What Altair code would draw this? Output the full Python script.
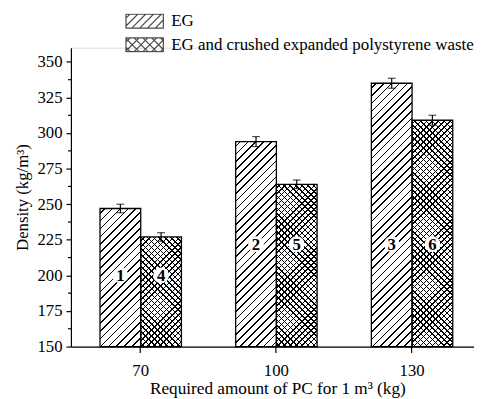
import math
import altair as alt
import pandas as pd

# ---- data ----
pc_levels = ["70", "100", "130"]
groups = ["EG", "EG and crushed expanded polystyrene waste"]
eg_density = [247, 294, 335]
eg_error = [3, 3.5, 3.5]
mix_density = [227, 264, 309]
mix_error = [3, 3, 3.5]
eg_ids = ["1", "2", "3"]
mix_ids = ["4", "5", "6"]
label_level = [200, 222, 222]
y_major = [150, 175, 200, 225, 250, 275, 300, 325, 350]
y_minor = [162.5, 187.5, 212.5, 237.5, 262.5, 287.5, 312.5, 337.5]

rows = []
for i, pc in enumerate(pc_levels):
    rows.append(dict(pc=pc, group=groups[0], density=eg_density[i], err=eg_error[i],
                     id=eg_ids[i], ly=label_level[i]))
    rows.append(dict(pc=pc, group=groups[1], density=mix_density[i], err=mix_error[i],
                     id=mix_ids[i], ly=label_level[i]))
df = pd.DataFrame(rows)
df["lo"] = df["density"] - df["err"]
df["hi"] = df["density"] + df["err"]
minor_df = pd.DataFrame({"v": y_minor})

FONT = "Liberation Serif, DejaVu Serif, serif"
W_PLOT, H_PLOT = 410, 304
Y_DOM = [150, 360]
STEP_PAD_IN, STEP_PAD_OUT, ALIGN = 0.4, 0.1855, 0.578
step = W_PLOT / (3 - STEP_PAD_IN + 2 * STEP_PAD_OUT)
BAR_W = step * (1 - STEP_PAD_IN) / 2


def bar_height(v):
    return (v - Y_DOM[0]) / (Y_DOM[1] - Y_DOM[0]) * H_PLOT


def hatch(W, H, direction, s_h, lw, bg):
    D = W + H
    a = D / (W * W + H * H)
    if direction == "/":
        x1, y1, x2, y2 = 0, 0, W * a, H * a
    else:
        x1, y1, x2, y2 = 0, 1, W * a, 1 - H * a
    p = s_h / D
    f = lw * math.sqrt(2) / D
    stops = [{"offset": 0, "color": bg}]
    t = p / 2
    while t < 1:
        s0 = round(t, 5)
        s1 = round(min(1, t + f), 5)
        stops += [{"offset": s0, "color": bg}, {"offset": s0, "color": "black"},
                  {"offset": s1, "color": "black"}, {"offset": s1, "color": bg}]
        t += p
    stops.append({"offset": 1, "color": bg})
    return {"gradient": "linear", "x1": x1, "y1": y1, "x2": x2, "y2": y2, "stops": stops}


def legend_path(h, spacing, dirs):
    d = f"M-1,{-h}L1,{-h}L1,{h}L-1,{h}Z"
    for direction in dirs:
        c = -1 - h + spacing / 2
        while c < 1 + h:
            xa, xb = max(-1, c - h), min(1, c + h)
            if xb > xa:
                if direction == "/":
                    ya, yb = c - xa, c - xb
                else:
                    ya, yb = xa - c, xb - c
                d += f"M{xa:.3f},{ya:.3f}L{xb:.3f},{yb:.3f}"
            c += spacing
    return d


path_eg = legend_path(0.37, 0.42, ["/"])
path_mix = legend_path(0.37, 0.47, ["/", "\\"])

x_enc = alt.X("pc:N", sort=pc_levels,
              scale=alt.Scale(paddingInner=STEP_PAD_IN, paddingOuter=STEP_PAD_OUT, align=ALIGN),
              axis=alt.Axis(title="Required amount of PC for 1 m³ (kg)", labelAngle=0,
                            labelFont=FONT, labelFontSize=17, labelColor="black",
                            titleFont=FONT, titleFontSize=17.5, titleFontWeight="normal",
                            titleColor="black", tickSize=6, tickColor="black",
                            domainColor="black", tickWidth=1.2, domainWidth=1.2,
                            labelPadding=10, titlePadding=2, titleX=210))
xo_enc = alt.XOffset("group:N", sort=groups, scale=alt.Scale(paddingInner=0, paddingOuter=0))
y_scale = alt.Scale(domain=Y_DOM, nice=False, zero=False)
y_axis = alt.Axis(title="Density (kg/m³)", values=y_major, grid=False,
                  labelOverlap=False,
                  labelFont=FONT, labelFontSize=17, labelColor="black",
                  titleFont=FONT, titleFontSize=17, titleFontWeight="normal",
                  titleColor="black", tickSize=5, tickColor="black",
                  domainColor="black", tickWidth=1.2, domainWidth=1.2,
                  labelPadding=4, titlePadding=6)


def yenc(field):
    return alt.Y(field, scale=y_scale, axis=y_axis, title="Density (kg/m³)")


base = alt.Chart(df).encode(x=x_enc, xOffset=xo_enc, y=yenc("density:Q"))

layers = []
for r in rows:
    H = bar_height(r["density"])
    sub = base.encode(y2=alt.datum(Y_DOM[0])).transform_filter(alt.datum.id == r["id"])
    if r["group"] == groups[0]:
        layers.append(sub.mark_bar(fill=hatch(BAR_W, H, "/", 8.0, 1.2, "white"), strokeWidth=0))
    else:
        layers.append(sub.mark_bar(fill=hatch(BAR_W, H, "/", 6.0, 1.1, "white"), strokeWidth=0))
        layers.append(sub.mark_bar(fill=hatch(BAR_W, H, "\\", 6.0, 1.1, "rgba(0,0,0,0)"),
                                   strokeWidth=0))

outline = base.encode(y2=alt.datum(Y_DOM[0])).mark_bar(
    fillOpacity=0, stroke="black", strokeWidth=1.3)

legend_pts = base.mark_point(size=0, filled=False, strokeWidth=1.2, color="black").encode(
    shape=alt.Shape("group:N", sort=groups, scale=alt.Scale(range=[path_eg, path_mix]),
                    legend=alt.Legend(orient="none", legendX=55, legendY=-35, title=None,
                                      labelFont=FONT, labelFontSize=17.2, labelColor="black",
                                      symbolSize=1444, labelOffset=7, rowPadding=6,
                                      clipHeight=16,
                                      symbolStrokeWidth=1.2, symbolStrokeColor="black",
                                      symbolFillColor="transparent", labelLimit=400))
)

err_rule = base.mark_rule(color="black", strokeWidth=1.2).encode(y=yenc("lo:Q"), y2="hi:Q")
err_cap_hi = base.mark_tick(color="black", size=8, thickness=1.2).encode(y=yenc("hi:Q"))
err_cap_lo = base.mark_tick(color="black", size=8, thickness=1.2).encode(y=yenc("lo:Q"))

label_bg = base.mark_circle(color="white", opacity=1, size=260).encode(y=yenc("ly:Q"))
label_txt = base.mark_text(font=FONT, fontSize=17, fontWeight="bold", color="black",
                           baseline="middle", dy=1).encode(y=yenc("ly:Q"), text="id:N")

minor = alt.Chart(minor_df).mark_rule(color="black", strokeWidth=1.2).encode(
    y=yenc("v:Q"), x=alt.value(-3), x2=alt.value(0))

chart = alt.layer(*layers, outline, legend_pts, err_rule, err_cap_hi, err_cap_lo, label_bg,
                  label_txt, minor).properties(
    width=W_PLOT, height=H_PLOT,
    autosize=alt.AutoSizeParams(type="none"),
    padding={"left": 64, "top": 37, "right": 0, "bottom": 50},
).configure_view(stroke=None).configure(background="white")

chart.save("out.html", embed_options={"renderer": "svg", "actions": False})
